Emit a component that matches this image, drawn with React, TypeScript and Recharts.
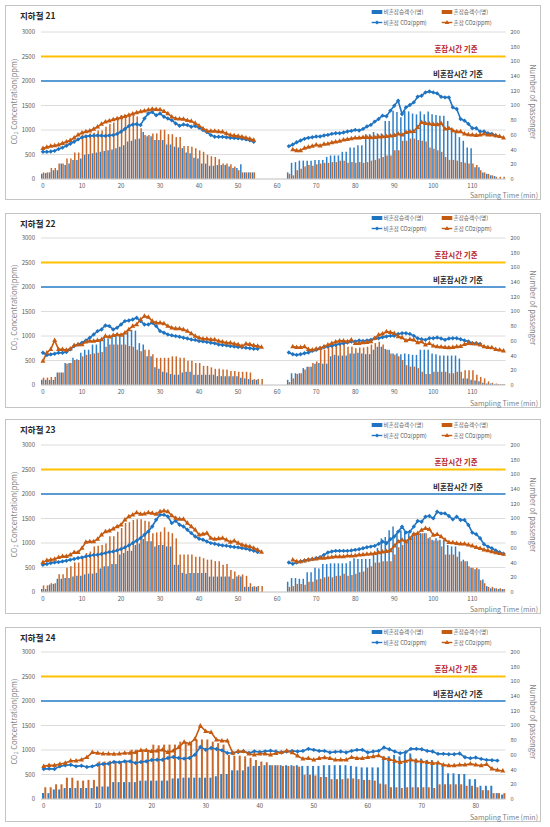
import React from "react";
import {
  Bar,
  CartesianGrid,
  ComposedChart,
  Line,
  ReferenceLine,
  XAxis,
  YAxis,
} from "recharts";

const FONT = "'Noto Sans CJK KR', 'Noto Sans', sans-serif";
const BLUE_BAR = "#2f7fc8";
const ORANGE_BAR = "#c8692b";
const BLUE_LINE = "#1f74c2";
const ORANGE_LINE = "#c55a11";
const CONGESTED_COLOR = "#ffc000";
const NORMAL_COLOR = "#5b9bd5";

const ppmTicks = [0, 500, 1000, 1500, 2000, 2500, 3000];
const passengerTicks = [0, 20, 40, 60, 80, 100, 120, 140, 160, 180, 200];
const congestedLimit = 2500;
const normalLimit = 2000;
const legendLabels = ["비혼잡승객수(명)", "혼잡승객수(명)", "비혼잡 CO2(ppm)", "혼잡 CO2(ppm)"];

// ---- 지하철 21 ----
const p21NonBarA = [7, 8, 9, 12, 12, 21, 19, 21, 26, 26, 28, 33, 34, 35, 36, 37, 38, 39, 40, 42, 44, 46, 51, 52, 54, 55, 64, 58, 58, 53, 53, 53, 47, 47, 44, 43, 42, 36, 35, 29, 28, 21, 21, 18, 18, 19, 19, 19, 17, 15, 15, 20, 9, 9, 9];
const p21ConBarA = [9, 9, 15, 15, 21, 21, 28, 28, 36, 36, 60, 60, 62, 63, 66, 66, 71, 75, 77, 82, 87, 87, 88, 89, 85, 69, 60, 60, 62, 62, 67, 67, 61, 61, 57, 57, 45, 45, 44, 42, 39, 37, 33, 31, 30, 27, 21, 21, 20, 17, 12, 9, 9, 9, 9];
const p21NonLineA = [557, 555, 560, 575, 610, 640, 680, 720, 760, 808, 849, 870, 880, 885, 890, 885, 880, 890, 896, 920, 964, 1020, 1080, 1110, 1120, 1100, 1236, 1337, 1365, 1300, 1337, 1270, 1236, 1200, 1134, 1086, 1113, 1100, 1066, 1080, 1045, 998, 957, 896, 862, 862, 860, 850, 841, 835, 830, 820, 808, 790, 760];
const p21ConLineA = [625, 650, 672, 685, 700, 730, 760, 790, 842, 900, 944, 970, 985, 1020, 1066, 1120, 1168, 1190, 1215, 1235, 1256, 1280, 1304, 1330, 1358, 1375, 1392, 1410, 1426, 1420, 1419, 1380, 1337, 1270, 1236, 1230, 1222, 1200, 1181, 1140, 1086, 1030, 985, 980, 978, 970, 964, 930, 896, 885, 876, 860, 842, 820, 794];
const p21NonBarB = [9, 22, 23, 25, 25, 25, 25, 26, 26, 26, 30, 32, 32, 32, 37, 37, 43, 43, 46, 46, 61, 61, 64, 62, 62, 79, 79, 93, 91, 84, 93, 92, 89, 88, 92, 88, 92, 88, 87, 86, 86, 79, 70, 64, 57, 52, 43, 42, 16, 16, 9, 7, 5, 4];
const p21ConBarB = [7, 5, 12, 14, 17, 19, 18, 20, 21, 22, 22, 23, 23, 25, 25, 22, 23, 22, 23, 22, 23, 25, 26, 28, 30, 32, 32, 39, 39, 52, 52, 55, 55, 53, 52, 51, 43, 41, 39, 37, 30, 26, 26, 25, 23, 22, 21, 21, 19, 12, 9, 7, 5, 3, 3, 3];
const p21NonLineB = [670, 704, 751, 785, 819, 840, 853, 866, 866, 887, 900, 921, 934, 934, 948, 968, 982, 1002, 990, 1022, 1070, 1104, 1171, 1225, 1293, 1280, 1395, 1496, 1598, 1327, 1462, 1510, 1564, 1679, 1700, 1767, 1787, 1767, 1747, 1679, 1665, 1665, 1462, 1428, 1225, 1191, 1124, 1036, 1036, 968, 968, 934, 921, 887];
const p21ConLineB = [602, 582, 582, 630, 650, 670, 697, 680, 711, 718, 745, 758, 772, 799, 812, 826, 840, 840, 853, 853, 846, 853, 860, 866, 873, 880, 894, 921, 900, 955, 968, 975, 1056, 1158, 1137, 1124, 1117, 1110, 1137, 1022, 1036, 988, 968, 968, 921, 907, 900, 894, 900, 921, 900, 900, 887, 873, 840];

// ---- 지하철 22 ----
const p22NonBarA = [7, 7, 7, 7, 17, 17, 30, 30, 37, 35, 44, 48, 48, 55, 55, 60, 64, 63, 67, 67, 69, 69, 73, 75, 74, 57, 55, 39, 39, 24, 22, 18, 17, 15, 14, 14, 17, 18, 18, 14, 14, 14, 14, 14, 14, 12, 12, 12, 12, 12, 12, 10, 9, 8, 7, 7];
const p22ConBarA = [10, 10, 11, 11, 17, 17, 29, 30, 34, 34, 39, 41, 42, 43, 44, 45, 52, 55, 55, 55, 55, 55, 53, 52, 48, 46, 48, 48, 42, 37, 37, 37, 37, 39, 39, 37, 37, 33, 33, 30, 30, 26, 26, 24, 22, 22, 21, 21, 19, 19, 18, 18, 18, 17, 8, 8, 8];
const p22NonLineA = [659, 611, 625, 638, 659, 659, 672, 727, 794, 828, 862, 910, 964, 1032, 1100, 1134, 1215, 1202, 1134, 1168, 1236, 1304, 1317, 1338, 1372, 1304, 1236, 1236, 1270, 1202, 1100, 1066, 1032, 1012, 998, 985, 964, 950, 930, 920, 896, 890, 876, 862, 850, 828, 815, 808, 794, 785, 774, 768, 760, 750, 740, 740];
const p22ConLineA = [489, 659, 727, 910, 727, 727, 713, 740, 808, 828, 828, 883, 896, 896, 910, 930, 998, 985, 1012, 1032, 1020, 1066, 1134, 1202, 1236, 1338, 1406, 1385, 1304, 1270, 1270, 1256, 1202, 1168, 1154, 1154, 1134, 1100, 1052, 998, 964, 944, 944, 930, 930, 896, 883, 862, 862, 842, 828, 794, 842, 830, 808, 794, 774];
const p22NonBarB = [7, 16, 16, 16, 23, 25, 25, 29, 30, 29, 29, 39, 41, 40, 40, 40, 43, 43, 44, 43, 42, 42, 48, 52, 52, 49, 48, 43, 43, 42, 43, 42, 41, 41, 48, 48, 48, 43, 42, 40, 40, 40, 40, 40, 36, 9, 9, 7, 6, 5, 3, 2, 2, 1, 1, 1];
const p22ConBarB = [4, 9, 15, 16, 21, 25, 30, 32, 48, 48, 51, 52, 55, 57, 59, 52, 52, 50, 51, 51, 52, 55, 57, 59, 55, 48, 43, 41, 39, 34, 27, 25, 25, 23, 18, 15, 15, 18, 18, 18, 18, 16, 16, 18, 18, 20, 20, 20, 14, 11, 9, 5, 3, 2, 1, 1];
const p22NonLineB = [662, 627, 614, 627, 648, 662, 696, 716, 750, 771, 784, 798, 818, 839, 853, 866, 887, 887, 907, 900, 907, 921, 955, 955, 975, 989, 1003, 1003, 1043, 1057, 1057, 1043, 1003, 955, 934, 921, 955, 955, 968, 948, 921, 948, 955, 955, 934, 907, 887, 853, 853, 839];
const p22ConLineB = [784, 771, 771, 784, 730, 716, 737, 750, 784, 818, 853, 880, 900, 900, 887, 921, 853, 853, 866, 870, 887, 955, 1023, 1043, 1091, 1075, 1057, 989, 968, 907, 934, 921, 866, 887, 818, 853, 798, 784, 778, 771, 765, 771, 784, 790, 832, 853, 845, 840, 818, 784, 771, 765, 730, 716, 696];

// ---- 지하철 23 ----
const p23NonBarA = [4, 4, 10, 11, 18, 18, 19, 19, 21, 22, 22, 24, 25, 25, 26, 32, 35, 35, 38, 38, 51, 53, 56, 56, 64, 66, 72, 69, 69, 62, 64, 64, 62, 62, 37, 37, 26, 25, 26, 26, 26, 26, 26, 21, 21, 21, 21, 21, 21, 18, 21, 21, 7, 7, 7, 7];
const p23ConBarA = [9, 9, 12, 12, 24, 24, 33, 35, 40, 40, 48, 53, 55, 62, 63, 64, 66, 76, 76, 82, 87, 94, 95, 98, 99, 99, 97, 96, 80, 81, 82, 88, 82, 80, 73, 51, 51, 51, 51, 48, 48, 46, 44, 44, 42, 42, 37, 38, 30, 28, 23, 24, 22, 12, 8, 8, 8];
const p23NonLineA = [557, 570, 591, 604, 610, 625, 638, 659, 672, 693, 706, 727, 740, 754, 760, 774, 794, 815, 828, 849, 876, 910, 951, 998, 1046, 1100, 1168, 1236, 1338, 1474, 1575, 1575, 1541, 1406, 1453, 1372, 1338, 1270, 1202, 1134, 1086, 1066, 1032, 998, 985, 964, 951, 944, 930, 917, 910, 896, 885, 862, 842, 815];
const p23ConLineA = [604, 645, 659, 672, 706, 727, 727, 760, 808, 808, 896, 1019, 1032, 1032, 1080, 1168, 1236, 1249, 1290, 1338, 1372, 1474, 1541, 1575, 1623, 1589, 1596, 1623, 1609, 1589, 1643, 1657, 1643, 1562, 1507, 1487, 1487, 1406, 1338, 1270, 1168, 1181, 1202, 1100, 1080, 1090, 1100, 1066, 1019, 1046, 998, 964, 944, 930, 896, 862, 815];
const p23NonBarB = [14, 19, 19, 18, 18, 27, 27, 33, 32, 38, 38, 39, 39, 39, 39, 39, 42, 46, 45, 45, 45, 45, 51, 60, 73, 75, 84, 89, 80, 84, 82, 80, 80, 78, 80, 80, 73, 71, 73, 71, 69, 64, 62, 62, 55, 44, 42, 33, 31, 31, 17, 8, 5, 5, 4, 4];
const p23ConBarB = [7, 8, 11, 11, 10, 14, 14, 17, 18, 20, 21, 20, 22, 22, 25, 22, 23, 25, 27, 28, 33, 35, 40, 40, 42, 42, 42, 51, 61, 64, 69, 75, 80, 78, 80, 80, 75, 70, 70, 62, 51, 51, 51, 48, 42, 42, 35, 33, 33, 16, 12, 7, 7, 5, 5, 4];
const p23NonLineB = [602, 575, 602, 623, 643, 657, 670, 691, 711, 758, 806, 826, 840, 840, 840, 840, 846, 860, 873, 894, 914, 927, 941, 982, 1029, 995, 1076, 1131, 1232, 1334, 1212, 1232, 1334, 1449, 1435, 1537, 1550, 1503, 1638, 1604, 1604, 1550, 1483, 1537, 1469, 1469, 1368, 1212, 1178, 1097, 975, 927, 894, 846, 812, 779];
const p23ConLineB = [657, 623, 623, 636, 657, 670, 677, 691, 691, 704, 711, 724, 724, 724, 738, 738, 745, 758, 765, 772, 779, 792, 806, 819, 833, 846, 941, 1029, 1063, 1029, 1097, 1185, 1198, 1266, 1300, 1280, 1164, 1178, 1131, 1063, 1015, 1010, 995, 982, 982, 961, 941, 914, 894, 860, 846, 826, 806, 792, 772];

// ---- 지하철 24 ----
const p24NonBar = [8, 8, 13, 13, 15, 15, 15, 15, 15, 15, 17, 17, 17, 23, 23, 23, 23, 23, 25, 25, 25, 25, 25, 25, 28, 28, 29, 29, 29, 29, 29, 29, 31, 34, 34, 39, 39, 39, 44, 45, 45, 46, 46, 46, 46, 46, 46, 46, 45, 45, 45, 45, 46, 46, 46, 46, 46, 45, 44, 43, 43, 43, 43, 58, 58, 60, 58, 62, 62, 55, 55, 53, 53, 49, 46, 35, 35, 34, 34, 27, 27, 18, 18, 18, 8, 6];
const p24ConBar = [16, 16, 20, 20, 29, 29, 25, 25, 26, 26, 51, 51, 52, 52, 50, 52, 67, 67, 66, 66, 74, 73, 74, 74, 74, 78, 77, 77, 81, 81, 81, 78, 76, 74, 60, 59, 59, 58, 56, 53, 51, 50, 46, 46, 45, 45, 45, 44, 33, 33, 32, 30, 30, 27, 27, 27, 28, 28, 27, 26, 26, 25, 21, 20, 16, 16, 15, 16, 16, 16, 16, 16, 15, 20, 20, 20, 20, 20, 18, 18, 16, 12, 12, 8, 8, 8];
const p24NonLine = [612, 619, 612, 666, 687, 700, 666, 680, 653, 666, 700, 714, 721, 755, 748, 768, 768, 734, 755, 768, 796, 802, 802, 836, 857, 836, 823, 836, 904, 1061, 1006, 1040, 1020, 993, 938, 938, 959, 972, 938, 972, 959, 972, 986, 968, 948, 968, 982, 968, 982, 1023, 1003, 982, 982, 948, 962, 968, 948, 982, 1003, 1003, 948, 968, 982, 1050, 1016, 968, 934, 955, 1023, 1023, 1016, 982, 968, 921, 921, 914, 914, 928, 853, 832, 846, 818, 798, 790, 784];
const p24ConLine = [666, 687, 687, 714, 734, 782, 782, 802, 850, 952, 938, 925, 925, 918, 925, 938, 938, 952, 993, 993, 972, 986, 1006, 952, 986, 1054, 1163, 1129, 1224, 1496, 1380, 1360, 1210, 1190, 1190, 938, 972, 972, 925, 904, 925, 925, 904, 934, 955, 982, 948, 880, 818, 832, 798, 832, 846, 832, 798, 798, 798, 853, 832, 832, 853, 866, 887, 832, 812, 777, 750, 777, 798, 777, 764, 750, 730, 740, 696, 682, 682, 696, 696, 716, 696, 682, 709, 614, 593, 573];

type Segment = [number, number[]];

interface PanelDef {
  title: string;
  top: number;
  plotTop: number;
  minutes: number;
  barSize: number;
  nonBar: Segment[];
  conBar: Segment[];
  nonLine: Segment[];
  conLine: Segment[];
}

const panels: PanelDef[] = [
  {
    title: "지하철 21", top: 5, plotTop: 32, minutes: 119, barSize: 1.5,
    nonBar: [[0, p21NonBarA], [63, p21NonBarB]],
    conBar: [[0, p21ConBarA], [63, p21ConBarB]],
    nonLine: [[0, p21NonLineA], [63, p21NonLineB]],
    conLine: [[0, p21ConLineA], [64, p21ConLineB]],
  },
  {
    title: "지하철 22", top: 213, plotTop: 238, minutes: 119, barSize: 1.5,
    nonBar: [[0, p22NonBarA], [63, p22NonBarB]],
    conBar: [[0, p22ConBarA], [63, p22ConBarB]],
    nonLine: [[0, p22NonLineA], [63, p22NonLineB]],
    conLine: [[0, p22ConLineA], [64, p22ConLineB]],
  },
  {
    title: "지하철 23", top: 419, plotTop: 445, minutes: 119, barSize: 1.5,
    nonBar: [[0, p23NonBarA], [63, p23NonBarB]],
    conBar: [[0, p23ConBarA], [63, p23ConBarB]],
    nonLine: [[0, p23NonLineA], [63, p23NonLineB]],
    conLine: [[0, p23ConLineA], [64, p23ConLineB]],
  },
  {
    title: "지하철 24", top: 627, plotTop: 652, minutes: 86, barSize: 2,
    nonBar: [[0, p24NonBar]],
    conBar: [[0, p24ConBar]],
    nonLine: [[0, p24NonLine]],
    conLine: [[0, p24ConLine]],
  },
];

function buildRows(p: PanelDef) {
  const rows: any[] = [];
  for (let t = 0; t < p.minutes; t++) {
    rows.push({ t, nonBar: null, conBar: null, nonLine: null, conLine: null });
  }
  const fill = (key: string, segs: Segment[]) =>
    segs.forEach(([start, vals]) =>
      vals.forEach((v, i) => {
        if (rows[start + i]) rows[start + i][key] = v;
      })
    );
  fill("nonBar", p.nonBar);
  fill("conBar", p.conBar);
  fill("nonLine", p.nonLine);
  fill("conLine", p.conLine);
  return rows;
}

const diamondDot = (props: any) => {
  const { cx, cy, index, value } = props;
  if (value == null || cx == null || cy == null) return <g key={`nd-${index}`} />;
  const r = 2.2;
  return (
    <path
      key={`nd-${index}`}
      d={`M${cx} ${cy - r}L${cx + r} ${cy}L${cx} ${cy + r}L${cx - r} ${cy}Z`}
      fill={BLUE_LINE}
    />
  );
};

const triangleDot = (props: any) => {
  const { cx, cy, index, value } = props;
  if (value == null || cx == null || cy == null) return <g key={`cd-${index}`} />;
  return (
    <path
      key={`cd-${index}`}
      d={`M${cx} ${cy - 2.8}L${cx + 2.5} ${cy + 1.7}L${cx - 2.5} ${cy + 1.7}Z`}
      fill={ORANGE_LINE}
    />
  );
};

const refLabel = (text: string, color: string, fromRight: number, lift: number) => (props: any) => {
  const vb = props.viewBox;
  if (!vb) return null;
  return (
    <text
      x={vb.x + vb.width - fromRight}
      y={vb.y - lift}
      textAnchor="middle"
      fontSize={7.5}
      fontWeight={700}
      fill={color}
      fontFamily={FONT}
    >
      {text}
    </text>
  );
};

const W = 536;
const H = 195;
const PLOT_H = 147;

function Panel({ p }: { p: PanelDef }) {
  const rows = buildRows(p);
  const mt = p.plotTop - p.top;
  const xh = H - mt - PLOT_H;
  const tickStyle = { fontSize: 6, fill: "#595959", fontFamily: FONT };
  const r1 = mt - 20;
  const r2 = mt - 9.5;
  const midY = mt + PLOT_H / 2 - 4;

  return (
    <>
      <div
        style={{
          position: "absolute",
          left: 5,
          top: p.top,
          width: W,
          height: H,
          border: "1px solid #c4c4c4",
          boxSizing: "border-box",
        }}
      />
      <div style={{ position: "absolute", left: 5, top: p.top }}>
        <ComposedChart
          width={W}
          height={H}
          data={rows}
          margin={{ top: mt, right: 0, bottom: 0, left: 0 }}
          barGap={0.3}
          barCategoryGap="10%"
        >
          <CartesianGrid yAxisId="ppm" vertical={false} stroke="#dcdcdc" />
          <XAxis
            dataKey="t"
            interval={9}
            tickLine={false}
            axisLine={{ stroke: "#d0d0d0" }}
            height={xh}
            tickSize={3}
            tickMargin={2}
            tick={tickStyle}
          />
          <YAxis
            yAxisId="ppm"
            domain={[0, 3000]}
            ticks={ppmTicks}
            width={36}
            axisLine={false}
            tickLine={false}
            tickSize={4}
            tickMargin={2}
            tick={tickStyle}
          />
          <YAxis
            yAxisId="pax"
            orientation="right"
            domain={[0, 200]}
            ticks={passengerTicks}
            width={35.5}
            axisLine={false}
            tickLine={false}
            tickSize={3}
            tickMargin={2}
            tick={{ ...tickStyle, fontSize: 5.6 }}
          />
          <Bar yAxisId="pax" dataKey="nonBar" fill={BLUE_BAR} barSize={p.barSize} isAnimationActive={false} />
          <Bar yAxisId="pax" dataKey="conBar" fill={ORANGE_BAR} barSize={p.barSize} isAnimationActive={false} />
          <ReferenceLine
            yAxisId="ppm"
            y={congestedLimit}
            stroke={CONGESTED_COLOR}
            strokeWidth={2}
            label={refLabel("혼잡시간 기준", "#b8232b", 49.5, 5)}
          />
          <ReferenceLine
            yAxisId="ppm"
            y={normalLimit}
            stroke={NORMAL_COLOR}
            strokeWidth={2}
            label={refLabel("비혼잡시간 기준", "#262626", 47.5, 4)}
          />
          <Line
            yAxisId="ppm"
            dataKey="nonLine"
            stroke={BLUE_LINE}
            strokeWidth={1.6}
            dot={diamondDot}
            activeDot={false}
            isAnimationActive={false}
          />
          <Line
            yAxisId="ppm"
            dataKey="conLine"
            stroke={ORANGE_LINE}
            strokeWidth={1.6}
            dot={triangleDot}
            activeDot={false}
            isAnimationActive={false}
          />
        </ComposedChart>
      </div>
      <svg
        width={W}
        height={H}
        style={{ position: "absolute", left: 5, top: p.top, pointerEvents: "none", fontFamily: FONT }}
      >
        <text x={15} y={14} fontSize={8.5} fontWeight={700} fill="#262626">
          {p.title}
        </text>
        <rect x={366.7} y={r1 - 2} width={10.6} height={4} fill={BLUE_LINE} />
        <text x={378.5} y={r1 + 2} fontSize={5.6} fill="#595959">{legendLabels[0]}</text>
        <rect x={436.7} y={r1 - 2} width={10.6} height={4} fill={ORANGE_LINE} />
        <text x={448.5} y={r1 + 2} fontSize={5.6} fill="#595959">{legendLabels[1]}</text>
        <line x1={366.7} x2={377.3} y1={r2} y2={r2} stroke={BLUE_LINE} strokeWidth={1.4} />
        <path d={`M372 ${r2 - 2}L374 ${r2}L372 ${r2 + 2}L370 ${r2}Z`} fill={BLUE_LINE} />
        <text x={378.5} y={r2 + 2} fontSize={5.6} fill="#595959">{legendLabels[2]}</text>
        <line x1={436.7} x2={447.3} y1={r2} y2={r2} stroke={ORANGE_LINE} strokeWidth={1.4} />
        <path d={`M442 ${r2 - 2.5}L444.3 ${r2 + 1.5}L439.7 ${r2 + 1.5}Z`} fill={ORANGE_LINE} />
        <text x={448.5} y={r2 + 2} fontSize={5.6} fill="#595959">{legendLabels[3]}</text>
        <text
          transform={`translate(11.5 ${midY}) rotate(-90)`}
          textAnchor="middle"
          fontSize={7.5}
          fill="#7f7f7f"
        >
          CO<tspan fontSize={5} dy={1.5}>2</tspan>
          <tspan dy={-1.5}> Concentration(ppm)</tspan>
        </text>
        <text
          transform={`translate(524.5 ${midY}) rotate(90)`}
          textAnchor="middle"
          fontSize={7.5}
          fill="#7f7f7f"
        >
          Number of passenger
        </text>
        <text x={533} y={H - 2} textAnchor="end" fontSize={7} fill="#7f7f7f">
          Sampling Time (min)
        </text>
      </svg>
    </>
  );
}

export default function App() {
  return (
    <div
      style={{
        position: "absolute",
        left: 0,
        top: 0,
        width: 550,
        height: 827,
        background: "#ffffff",
        overflow: "hidden",
        fontFamily: FONT,
      }}
    >
      {panels.map((p) => (
        <Panel key={p.title} p={p} />
      ))}
    </div>
  );
}
